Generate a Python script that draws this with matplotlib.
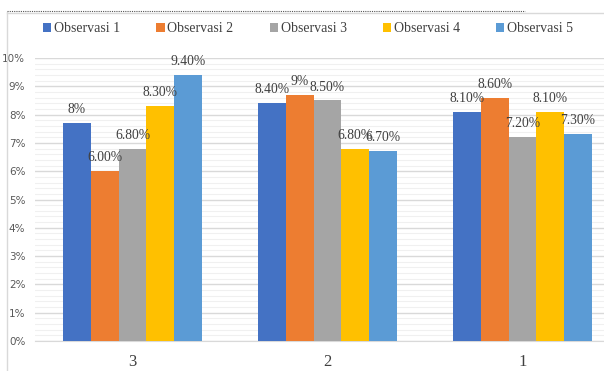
import numpy as np
import matplotlib
matplotlib.use('Agg')
import matplotlib.pyplot as plt
from matplotlib.lines import Line2D
from matplotlib.patches import Patch

# data
categories = ['3', '2', '1']
series_names = ['Observasi 1', 'Observasi 2', 'Observasi 3', 'Observasi 4', 'Observasi 5']
obs1 = [7.7, 8.4, 8.1]
obs2 = [6.0, 8.7, 8.6]
obs3 = [6.8, 8.5, 7.2]
obs4 = [8.3, 6.8, 8.1]
obs5 = [9.4, 6.7, 7.3]
labels1 = ['8%', '8.40%', '8.10%']
labels2 = ['6.00%', '9%', '8.60%']
labels3 = ['6.80%', '8.50%', '7.20%']
labels4 = ['8.30%', '6.80%', '8.10%']
labels5 = ['9.40%', '6.70%', '7.30%']
y_ticks = [0, 1, 2, 3, 4, 5, 6, 7, 8, 9, 10]
y_tick_labels = ['0%', '1%', '2%', '3%', '4%', '5%', '6%', '7%', '8%', '9%', '10%']

colors = ['#4472C4', '#ED7D31', '#A5A5A5', '#FFC000', '#5B9BD5']
all_vals = [obs1, obs2, obs3, obs4, obs5]
all_labels = [labels1, labels2, labels3, labels4, labels5]

serif = 'Liberation Serif'

fig = plt.figure(figsize=(6.04, 3.71), dpi=100)
ax = fig.add_axes([35 / 604, 30 / 371, 569 / 604, 283 / 371])

x = np.arange(len(categories))
bar_w = 0.1426
for i, (vals, labs) in enumerate(zip(all_vals, all_labels)):
    pos = x + (i - 2) * bar_w
    bars = ax.bar(pos, vals, width=bar_w, color=colors[i], zorder=3)
    for b, lab in zip(bars, labs):
        ax.annotate(lab, (b.get_x() + b.get_width() / 2, b.get_height()),
                    xytext=(0, 5), textcoords='offset points',
                    ha='center', va='bottom', fontsize=9.8,
                    family=serif, color='#404040', zorder=4)

ax.set_xlim(-0.5, 2.418)
ax.set_ylim(0, 10)
ax.set_yticks(y_ticks)
ax.set_yticklabels(y_tick_labels, fontsize=7.5, color='#595959')
ax.set_yticks(np.arange(0, 10, 0.2), minor=True)
ax.set_xticks(x)
ax.set_xticklabels(categories, fontsize=12, family=serif, color='#404040')
ax.tick_params(axis='both', which='both', length=0)
ax.tick_params(axis='x', pad=9)
ax.tick_params(axis='y', pad=7)
ax.grid(axis='y', which='major', color='#D9D9D9', linewidth=1.0, zorder=0)
ax.grid(axis='y', which='minor', color='#F0F0F0', linewidth=0.8, zorder=0)
for s in ['top', 'right', 'left']:
    ax.spines[s].set_visible(False)
ax.spines['bottom'].set_color('#D9D9D9')

# legend
handles = [Patch(facecolor=c, edgecolor='none') for c in colors]
fig.legend(handles, series_names, loc='center', bbox_to_anchor=(0.51, 0.922),
           ncol=5, frameon=False, prop={'family': serif, 'size': 10},
           handlelength=0.6, handleheight=0.6, handletextpad=0.2,
           columnspacing=2.6, labelcolor='#404040')

# chart frame and dotted line
fig.add_artist(Line2D([7 / 604, 7 / 604], [0, 1 - 12 / 371], color='#D9D9D9', lw=1,
                      transform=fig.transFigure))
fig.add_artist(Line2D([7 / 604, 1], [1 - 12.5 / 371, 1 - 12.5 / 371], color='#D9D9D9', lw=1,
                      transform=fig.transFigure))
fig.add_artist(Line2D([7 / 604, 525 / 604], [1 - 11 / 371, 1 - 11 / 371], color='#555555', lw=0.8,
                      linestyle=(0, (1, 1)), transform=fig.transFigure))

plt.savefig('out.png', dpi=100)
